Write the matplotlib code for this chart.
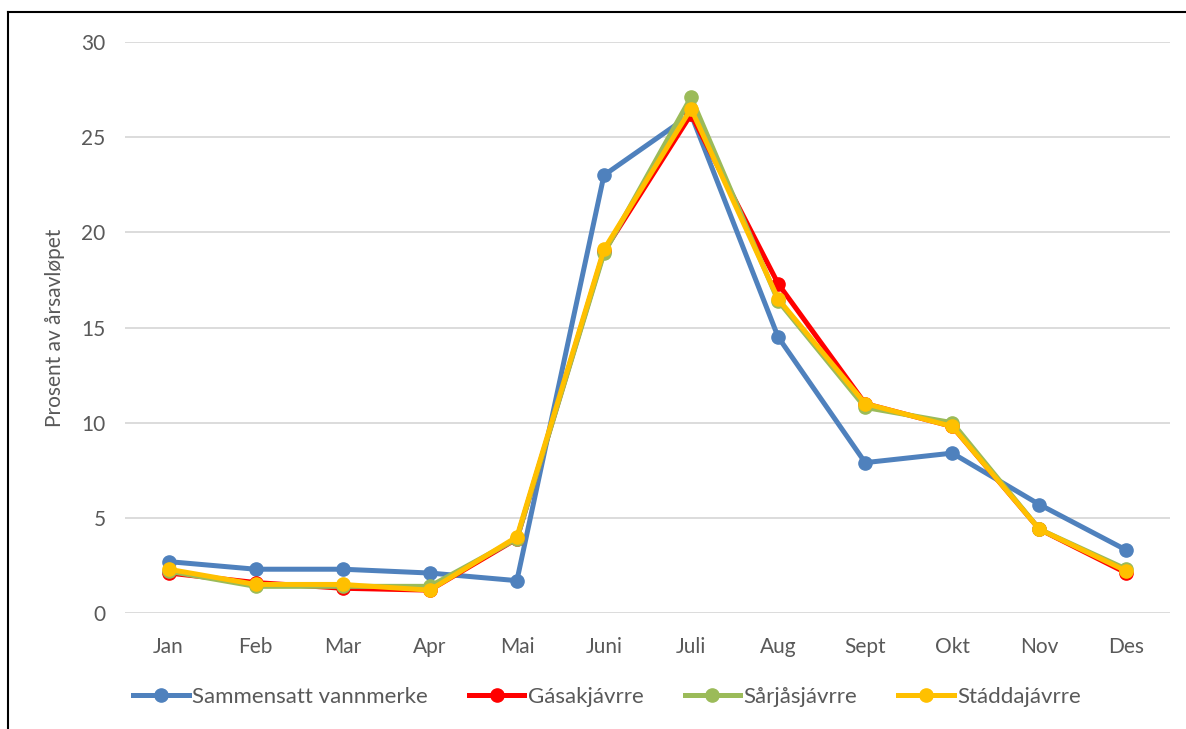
import matplotlib
matplotlib.use("Agg")
import matplotlib.pyplot as plt
from matplotlib.lines import Line2D

plt.rcParams['font.family'] = ['Lato', 'DejaVu Sans']

months = ["Jan", "Feb", "Mar", "Apr", "Mai", "Juni", "Juli", "Aug", "Sept", "Okt", "Nov", "Des"]
sammensatt = [2.7, 2.3, 2.3, 2.1, 1.7, 23.0, 26.2, 14.5, 7.9, 8.4, 5.7, 3.3]
gasak = [2.1, 1.6, 1.3, 1.2, 3.9, 19.0, 26.2, 17.3, 11.0, 9.8, 4.4, 2.1]
sarjas = [2.2, 1.4, 1.4, 1.4, 3.9, 18.9, 27.1, 16.4, 10.8, 10.0, 4.4, 2.3]
staddaj = [2.3, 1.5, 1.5, 1.2, 4.0, 19.1, 26.5, 16.5, 11.0, 9.8, 4.4, 2.2]
yticks = [0, 5, 10, 15, 20, 25, 30]

series = [
    ("Sammensatt vannmerke", sammensatt, "#4F81BD"),
    ("Gásakjávrre", gasak, "#FF0000"),
    ("Sårjåsjávrre", sarjas, "#9BBB59"),
    ("Stáddajávrre", staddaj, "#FFC000"),
]

fig = plt.figure(figsize=(11.86, 7.29), dpi=100)
ax = fig.add_axes([125/1186, 1-613/729, (1170-125)/1186, (613-42)/729])

x = list(range(len(months)))
for name, vals, col in series:
    ax.plot(x, vals, color=col, lw=3.6, marker='o', markersize=9.5,
            label=name, solid_joinstyle='round', solid_capstyle='round')

ax.set_xlim(-0.5, len(months) - 0.5)
ax.set_ylim(0, 30)
ax.set_yticks(yticks)
ax.set_xticks(x)
ax.set_xticklabels(months)
ax.yaxis.grid(True, color='#D9D9D9', lw=1.3)
ax.set_axisbelow(True)
for s in ax.spines.values():
    s.set_visible(False)
ax.tick_params(axis='both', length=0, labelsize=15, colors='#595959')
ax.tick_params(axis='y', pad=14)
ax.tick_params(axis='x', pad=17)
ax.set_ylabel("Prosent av årsavløpet", fontsize=15, color='#595959', labelpad=12)

handles = [Line2D([0], [0], color=c, lw=3.6, marker='o', markersize=9.5) for _, _, c in series]
fig.legend(handles, [n for n, _, _ in series], loc='center', bbox_to_anchor=(607/1186, 1-697/729),
           ncol=4, frameon=False, fontsize=16, labelcolor='#595959',
           handlelength=2.5, handletextpad=0.15, columnspacing=1.85)

# figure border (left and top visible)
fig.add_artist(Line2D([8/1186, 8/1186], [-0.05, 1-12/729], color='black', lw=1.5, transform=fig.transFigure))
fig.add_artist(Line2D([8/1186, 1.05], [1-12/729, 1-12/729], color='black', lw=1.5, transform=fig.transFigure))

fig.savefig("out.png", dpi=100)
